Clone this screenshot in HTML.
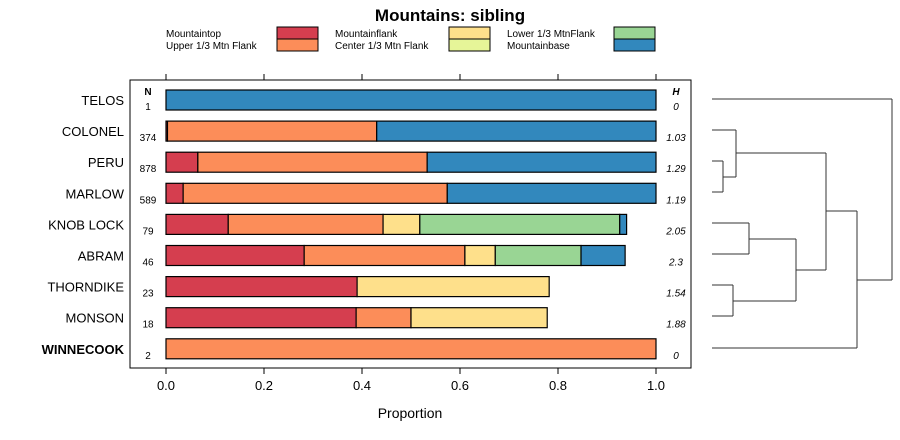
<!DOCTYPE html>
<html><head><meta charset="utf-8"><style>
body{margin:0;background:#fff;}
svg{display:block;font-family:"Liberation Sans",sans-serif;}
</style></head><body>
<svg id="chart" width="900" height="440" xmlns="http://www.w3.org/2000/svg">
<text x="450" y="21" text-anchor="middle" font-size="17" font-weight="bold">Mountains: sibling</text>
<g id="legend"></g>
<rect x="130" y="80" width="561" height="288" fill="none" stroke="#000"/>
<g id="bars"></g>
<g id="axis"></g>
<text x="410" y="418" text-anchor="middle" font-size="14">Proportion</text>
<text x="148" y="95" text-anchor="middle" font-size="10" font-weight="bold">N</text>
<text x="676" y="95" text-anchor="middle" font-size="10" font-weight="bold" font-style="italic">H</text>
<g id="dendro" stroke="#333" fill="none" stroke-width="1"></g>
</svg>
<script>
const sites=["TELOS","COLONEL","PERU","MARLOW","KNOB LOCK","ABRAM","THORNDIKE","MONSON","WINNECOOK"];
const nVals=[1,374,878,589,79,46,23,18,2];
const hVals=["0","1.03","1.29","1.19","2.05","2.3","1.54","1.88","0"];
const categories=["Mountaintop","Upper 1/3 Mtn Flank","Mountainflank","Center 1/3 Mtn Flank","Lower 1/3 MtnFlank","Mountainbase"];
const colors=["#d53e4f","#fc8d59","#fee08b","#e6f598","#99d594","#3288bd"];
const mountaintop=[0,0.003,0.065,0.035,0.127,0.282,0.39,0.388,0];
const upperFlank=[0,0.427,0.468,0.539,0.316,0.328,0,0.112,1];
const mountainflank=[0,0,0,0,0.075,0.062,0.392,0.278,0];
const centerFlank=[0,0,0,0,0,0,0,0,0];
const lowerFlank=[0,0,0,0,0.408,0.175,0,0,0];
const mountainbase=[1,0.57,0.467,0.426,0.014,0.09,0,0,0];
const ticks=[0,0.2,0.4,0.6,0.8,1.0];
const tickLabels=["0.0","0.2","0.4","0.6","0.8","1.0"];
const series=[mountaintop,upperFlank,mountainflank,centerFlank,lowerFlank,mountainbase];
const NS="http://www.w3.org/2000/svg";
function mk(t,a,p){const e=document.createElementNS(NS,t);for(const k in a)e.setAttribute(k,a[k]);p.appendChild(e);return e;}
const xs=v=>166+v*490;
const ys=i=>100+i*31.1;
const bars=document.getElementById('bars');
sites.forEach((s,i)=>{
  let c=0;const y=ys(i);
  series.forEach((ser,k)=>{
    const v=ser[i];if(v<=0)return;
    const r=mk('rect',{x:xs(c),y:y-10,width:xs(c+v)-xs(c),height:20,fill:colors[k],stroke:'#000','stroke-width':1.2},bars);
    
    
    c+=v;
  });
  const lb=mk('text',{x:124,y:y+5,'text-anchor':'end','font-size':13,'font-weight':s==="WINNECOOK"?'bold':'normal'},bars);lb.textContent=s;
  
  
  const nt=mk('text',{x:148,y:y+10,'text-anchor':'middle','font-size':10},bars);nt.textContent=nVals[i];
  
  
  const ht=mk('text',{x:676,y:y+10,'text-anchor':'middle','font-size':10,'font-style':'italic'},bars);ht.textContent=hVals[i];
  
  
});
const ax=document.getElementById('axis');
ticks.forEach((t,i)=>{
  mk('line',{x1:xs(t),x2:xs(t),y1:368,y2:374,stroke:'#000'},ax);
  mk('line',{x1:xs(t),x2:xs(t),y1:74,y2:80,stroke:'#000'},ax);
  const tl=mk('text',{x:xs(t),y:390,'text-anchor':'middle','font-size':13},ax);tl.textContent=tickLabels[i];
  
  
});
const lg=document.getElementById('legend');
const lpos=[[166,277],[335,449],[507,614]];
categories.forEach((c,k)=>{
  const col=Math.floor(k/2),row=k%2;
  const t=mk('text',{x:lpos[col][0],y:37+row*12,'font-size':10},lg);t.textContent=c;
  
  
  const r=mk('rect',{x:lpos[col][1],y:27+row*12,width:41,height:12,fill:colors[k],stroke:'#000'},lg);
  
  
});
const dd=document.getElementById('dendro');
const segs=[[712,99,892,99],[892,99,892,280],[712,130,736,130],[736,130,736,177],[736,153,826,153],
[712,161,723,161],[712,192,723,192],[723,161,723,192],[723,177,736,177],[826,153,826,270],[826,211,857,211],
[712,223,749,223],[712,254,749,254],[749,223,749,254],[749,239,796,239],[712,285,733,285],[712,316,733,316],
[733,285,733,316],[733,301,796,301],[796,239,796,301],[796,270,826,270],[857,211,857,348],[712,348,857,348],[857,280,892,280]];
segs.forEach(s=>mk('line',{x1:s[0],y1:s[1],x2:s[2],y2:s[3]},dd));
</script>
</body></html>
